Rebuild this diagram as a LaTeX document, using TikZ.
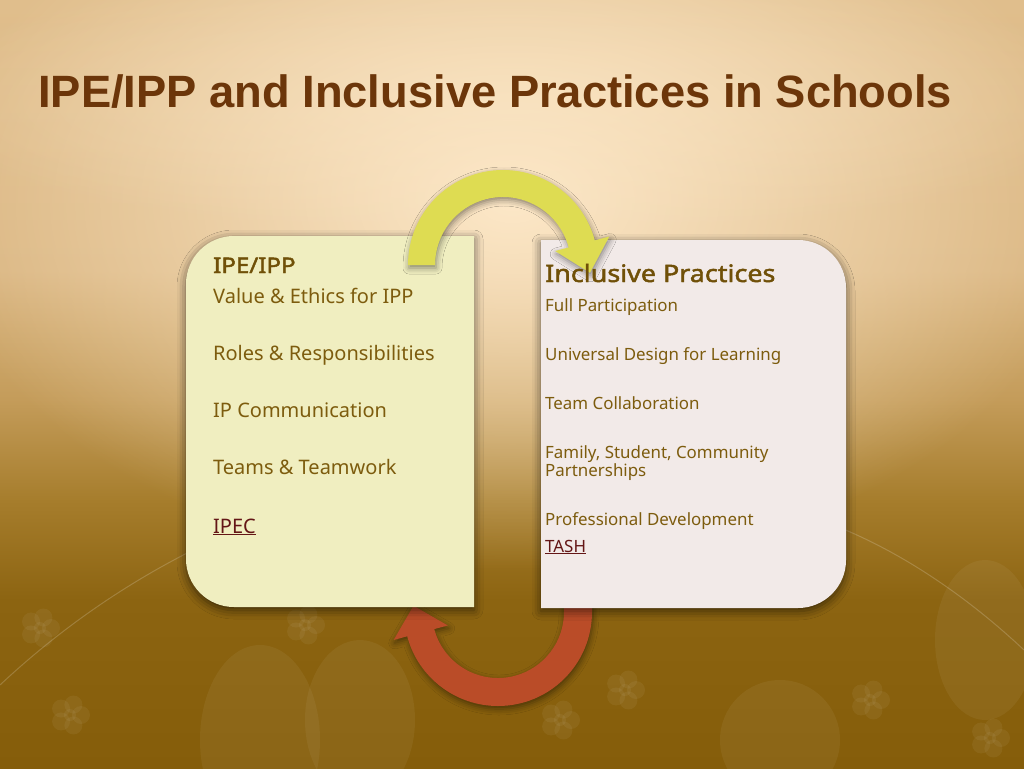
\documentclass[tikz,border=0pt]{standalone}
\usepackage{fontspec}
\setmainfont{Noto Sans}
\newfontfamily\boldsans{Noto Sans}[FakeBold=2, FakeStretch=1.12]
\newfontfamily\titlefont{Liberation Sans}
\usetikzlibrary{shadows.blur,fadings}
\definecolor{bgA}{RGB}{133,93,10}
\definecolor{bgB}{RGB}{140,100,17}
\definecolor{bgC}{RGB}{166,125,44}
\definecolor{bgD}{RGB}{196,156,90}
\definecolor{bgE}{RGB}{218,182,130}
\definecolor{bgF}{RGB}{224,190,140}
\definecolor{glowc}{RGB}{253,232,200}
\definecolor{leftfill}{RGB}{240,238,192}
\definecolor{rightfill}{RGB}{242,234,232}
\definecolor{yelarrow}{RGB}{222,220,82}
\definecolor{redarrow}{RGB}{186,76,40}
\definecolor{txtc}{RGB}{125,92,14}
\definecolor{headc}{RGB}{112,80,8}
\definecolor{linkc}{RGB}{100,22,22}
\definecolor{titlec}{RGB}{108,54,10}
\pgfdeclareverticalshading{bgshade}{100bp}{color(0bp)=(bgA); color(25bp)=(bgA); color(35.9bp)=(bgB); color(42.4bp)=(bgC); color(49bp)=(bgD); color(57.4bp)=(bgE); color(75bp)=(bgF); color(100bp)=(bgF)}
\tikzfading[name=glowfade, inner color=transparent!0, outer color=transparent!100]
\begin{document}
\begin{tikzpicture}[x=1pt,y=-1pt,
  boxshadow/.style={blur shadow={shadow xshift=0pt, shadow yshift=-3pt, shadow blur radius=9pt, shadow opacity=60}},
  arrshadow/.style={blur shadow={shadow xshift=1pt, shadow yshift=-3pt, shadow blur radius=6pt, shadow opacity=45}},
  lt/.style={anchor=base west, inner sep=0pt, text=txtc, font=\fontsize{20}{24}\selectfont},
  lh/.style={anchor=base west, inner sep=0pt, text=headc, font=\boldsans\fontsize{21.5}{24}\selectfont},
  rt/.style={anchor=base west, inner sep=0pt, text=txtc, font=\fontsize{16.9}{20}\selectfont},
  rh/.style={anchor=base west, inner sep=0pt, text=headc, font=\boldsans\fontsize{24}{28}\selectfont},
  lnk/.style={text=linkc},
  petal/.style={fill=white, fill opacity=0.05},
  flower/.pic={\foreach \a in {0,72,...,288} \fill[petal] (\a:11) circle (9); \fill[petal] (0,0) circle (6);}
]
\useasboundingbox (0,0) rectangle (1024,768);
\clip (0,0) rectangle (1024,768);
% background
\shade[shading=bgshade] (0,0) rectangle (1024,768);
\fill[glowc, path fading=glowfade] (512,200) ellipse [x radius=580, y radius=370];
\fill[glowc, path fading=glowfade, opacity=0.5] (512,100) ellipse [x radius=620, y radius=140];
% faint decorations
\draw[white, opacity=0.18, line width=1pt] (0,685) .. controls (80,610) and (170,555) .. (265,518);
\draw[white, opacity=0.18, line width=1pt] (1024,650) .. controls (960,590) and (890,545) .. (820,520);
\pic at (40,628) {flower};
\pic at (70,715) {flower};
\pic at (305,625) {flower};
\pic at (625,690) {flower};
\pic at (870,700) {flower};
\pic at (990,738) {flower};
\pic at (560,720) {flower};
\fill[petal] (260,740) ellipse [x radius=60, y radius=95];
\fill[petal] (360,720) ellipse [x radius=55, y radius=80];
\fill[petal] (985,640) ellipse [x radius=50, y radius=80];
\fill[petal] (780,740) ellipse [x radius=60, y radius=60];
% red arrow (behind boxes)
\fill[redarrow, arrshadow, shift={(498,612)}]
  (66,-8) -- (94,-8) -- (0:94) arc[start angle=0, end angle=165, radius=94]
  -- (165:108) -- (-84.5,-6.3) -- (165:52) -- (165:66)
  arc[start angle=165, end angle=0, radius=66] -- cycle;
% boxes
\fill[leftfill, boxshadow] (474,236) -- (234,236) arc[start angle=270, end angle=180, radius=48]
  -- (186,559) arc[start angle=180, end angle=90, radius=48] -- (474,607) -- cycle;
\fill[rightfill, boxshadow] (541,240) -- (798,240) arc[start angle=270, end angle=360, radius=48]
  -- (846,560) arc[start angle=0, end angle=90, radius=48] -- (541,608) -- cycle;
% yellow arrow (over boxes)
\fill[yelarrow, arrshadow, shift={(503,265)}]
  (180:95) arc[start angle=180, end angle=345, radius=95]
  -- (345:110) -- (86.96,7.78) -- (345:54) -- (345:68)
  arc[start angle=345, end angle=180, radius=68] -- cycle;
% title
\node[anchor=base west, inner sep=0pt, text=titlec, font=\titlefont\bfseries\fontsize{45.3}{54}\selectfont] (title) at (38,107) {IPE/IPP and Inclusive Practices in Schools};
% left texts
\node[lh] (lhead) at (213,273) {IPE/IPP};
\node[lt] (l1) at (213,303) {Value \& Ethics for IPP};
\node[lt] (l2) at (213,360) {Roles \& Responsibilities};
\node[lt] (l3) at (213,417) {IP Communication};
\node[lt] (l4) at (213,474) {Teams \& Teamwork};
\node[lt, lnk] (l5) at (213,533) {\underline{IPEC}};
% right texts
\node[rh] (rhead) at (545,282) {Inclusive Practices};
\node[rt] (r1) at (545,311) {Full Participation};
\node[rt] (r2) at (545,360) {Universal Design for Learning};
\node[rt] (r3) at (545,409) {Team Collaboration};
\node[rt] (r4) at (545,458) {Family, Student, Community};
\node[rt] (r4b) at (545,476) {Partnerships};
\node[rt] (r5) at (545,525) {Professional Development};
\node[rt, lnk] (r6) at (545,552) {\underline{TASH}};
\end{tikzpicture}
\end{document}
